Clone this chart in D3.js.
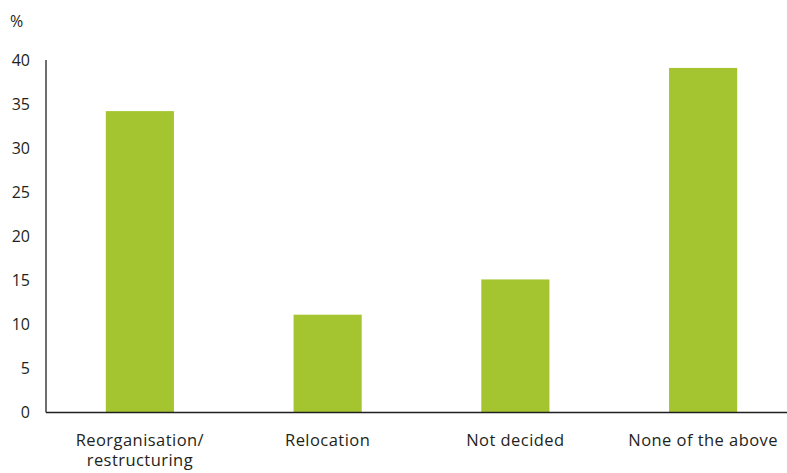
<!DOCTYPE html>
<html><head><meta charset="utf-8">
<script src="https://cdn.jsdelivr.net/npm/d3@7"></script>
<style>body{margin:0;background:#fff}svg{display:block}text{font-family:"Open Sans","Noto Sans",sans-serif;fill:#231f20}</style>
</head><body><svg id="c" width="787" height="473"></svg>
<script>
const categories = [["Reorganisation/","restructuring"],["Relocation"],["Not decided"],["None of the above"]];
const values = [34.2, 11.1, 15.1, 39.1];
const yTicks = [0,5,10,15,20,25,30,35,40];
const unitLabel = "%";

const svg = d3.select("#c");
const x0 = 46, yBase = 412.5, yTop = 60;
const x = d3.scaleBand().domain(d3.range(categories.length)).range([x0, 797]).paddingInner(0.637).paddingOuter(0.3185);
const y = d3.scaleLinear().domain([0,40]).range([yBase, yTop]);

svg.selectAll("rect.bar").data(values).join("rect").attr("class","bar")
  .attr("x",(d,i)=>x(i)).attr("width",x.bandwidth())
  .attr("y",d=>y(d)).attr("height",d=>yBase-y(d)).attr("fill","#a5c530");

svg.append("line").attr("x1",x0).attr("x2",787).attr("y1",yBase).attr("y2",yBase).attr("stroke","#231f20").attr("stroke-width",1.3);
svg.append("line").attr("x1",x0).attr("x2",x0).attr("y1",yTop).attr("y2",yBase).attr("stroke","#231f20").attr("stroke-width",1.3);

svg.selectAll("text.yt").data(yTicks).join("text").attr("class","yt")
  .attr("x",30).attr("y",d=>y(d)).attr("dy","0.36em").attr("text-anchor","end")
  .style("font-size","16px").text(d=>d);

svg.append("text").attr("x",10).attr("y",27).style("font-size","16px").text(unitLabel);

const g = svg.selectAll("text.xl").data(categories).join("text").attr("class","xl")
  .attr("text-anchor","middle").style("font-size","16.5px").style("letter-spacing","0.45px")
  .attr("transform",(d,i)=>`translate(${x(i)+x.bandwidth()/2},446)`);
g.selectAll("tspan").data(d=>d).join("tspan").attr("x",0).attr("dy",(d,j)=>j?"1.22em":0).text(d=>d);
</script></body></html>
